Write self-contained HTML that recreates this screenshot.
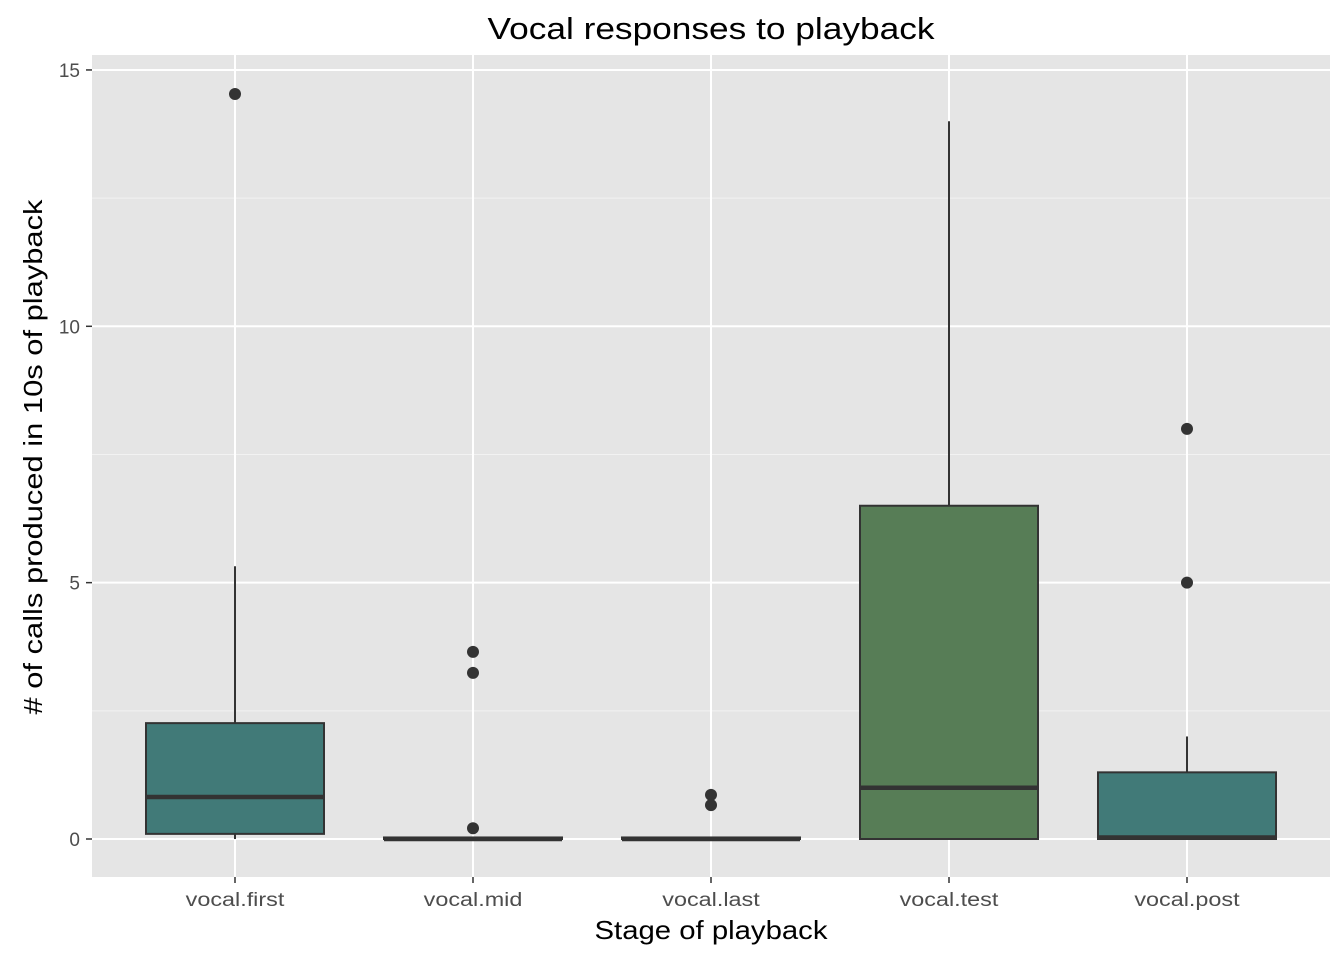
<!DOCTYPE html>
<html><head><meta charset="utf-8"><style>
body{margin:0;background:#fff;font-family:"Liberation Sans",Arial,sans-serif}
</style></head><body>
<svg id="c" width="1344" height="960" xmlns="http://www.w3.org/2000/svg"></svg>
<script>
const categories=["vocal.first","vocal.mid","vocal.last","vocal.test","vocal.post"];
const lowerWhisker=[0,0,0,0,0];
const q1=[0.1,0,0,0,0];
const medians=[0.82,0,0,1,0.03];
const q3=[2.26,0.03,0.03,6.5,1.3];
const upperWhisker=[5.32,0.03,0.03,14,2];
const outliers=[[14.53],[3.65,3.24,0.21],[0.86,0.66],[],[8,5]];
const fills=["#417a78","#417a78","#417a78","#577d56","#417a78"];
const yTicks=[0,5,10,15];
const yMinor=[2.5,7.5,12.5];
const NS="http://www.w3.org/2000/svg";
const svg=document.getElementById('c');
const P={l:92,r:1330,t:55,b:877};
const y=v=>839-v*51.27;
const x=i=>235+i*238;
const bw=178;
function el(t,a,p){const e=document.createElementNS(NS,t);for(const k in a)e.setAttribute(k,a[k]);(p||svg).appendChild(e);return e;}
function stretch(t,f){const w=t.getComputedTextLength();t.setAttribute('textLength',w*f);t.setAttribute('lengthAdjust','spacingAndGlyphs');}
let bg=el('rect',{x:P.l,y:P.t,width:P.r-P.l,height:P.b-P.t,fill:'#e5e5e5'});


yMinor.forEach(v=>{let g=el('line',{x1:P.l,x2:P.r,y1:y(v),y2:y(v),stroke:'#f2f2f2','stroke-width':1});

});
yTicks.forEach(v=>{let g=el('line',{x1:P.l,x2:P.r,y1:y(v),y2:y(v),stroke:'#fff','stroke-width':2});


let tk=el('line',{x1:86,x2:92,y1:y(v),y2:y(v),stroke:'#333','stroke-width':1.5});


let t=el('text',{x:80,y:y(v)+7,'text-anchor':'end','font-size':19,fill:'#4d4d4d'});t.textContent=v;

});
categories.forEach((c,i)=>{let g=el('line',{x1:x(i),x2:x(i),y1:P.t,y2:P.b,stroke:'#fff','stroke-width':2});


let tk=el('line',{x1:x(i),x2:x(i),y1:P.b,y2:P.b+6,stroke:'#333','stroke-width':1.5});


let t=el('text',{x:x(i),y:906,'text-anchor':'middle','font-size':19,fill:'#4d4d4d'});t.textContent=c;


stretch(t,1.23);});
categories.forEach((c,i)=>{
 const g=el('g',{});
 
 
 el('line',{x1:x(i),x2:x(i),y1:y(upperWhisker[i]),y2:y(q3[i]),stroke:'#333','stroke-width':2},g);
 el('line',{x1:x(i),x2:x(i),y1:y(q1[i]),y2:y(lowerWhisker[i]),stroke:'#333','stroke-width':2},g);
 el('rect',{x:x(i)-bw/2,y:y(q3[i]),width:bw,height:Math.max(0,y(q1[i])-y(q3[i])),fill:fills[i],stroke:'#333','stroke-width':2},g);
 el('line',{x1:x(i)-bw/2,x2:x(i)+bw/2,y1:y(medians[i]),y2:y(medians[i]),stroke:'#333','stroke-width':4.5},g);
 outliers[i].forEach(o=>{let d=el('circle',{cx:x(i),cy:y(o),r:6,fill:'#333'},g);
 
 });
});
let t1=el('text',{x:711,y:39,'text-anchor':'middle','font-size':31,fill:'#000',textLength:447,lengthAdjust:'spacingAndGlyphs'});t1.textContent='Vocal responses to playback';


let t2=el('text',{x:711,y:939,'text-anchor':'middle','font-size':26,fill:'#000',textLength:233,lengthAdjust:'spacingAndGlyphs'});t2.textContent='Stage of playback';


let t3=el('text',{x:0,y:0,'text-anchor':'middle','font-size':26,fill:'#000',transform:'translate(42,457) rotate(-90)',textLength:515,lengthAdjust:'spacingAndGlyphs'});t3.textContent='# of calls produced in 10s of playback';


</script>
</body></html>
